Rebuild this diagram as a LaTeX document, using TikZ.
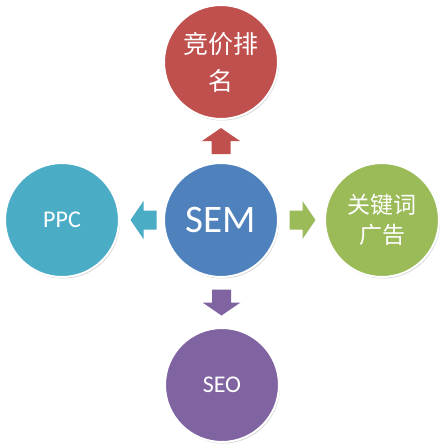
\documentclass[tikz,border=0pt]{standalone}
\usepackage{fontspec}
\setmainfont{Carlito}
\newfontfamily\cjk{Noto Sans CJK SC}
\usetikzlibrary{shadows,calc}
\definecolor{cred}{HTML}{C0504D}
\definecolor{cblue}{HTML}{4F81BD}
\definecolor{cgreen}{HTML}{9BBB59}
\definecolor{cpurple}{HTML}{8064A2}
\definecolor{cteal}{HTML}{4BACC6}
\tikzset{
  bubble/.style={circle, minimum size=114pt, inner sep=0pt, draw=white, line width=2pt,
    text=white, align=center,
    drop shadow={shadow xshift=1pt, shadow yshift=-1.5pt, opacity=0.3, fill=black!60}},
  blockarrow/.pic={\fill[#1] (-13,-9.5) -- (0,-9.5) -- (0,-19) -- (13,0) -- (0,19) -- (0,9.5) -- (-13,9.5) -- cycle;}
}
\begin{document}
\begin{tikzpicture}[x=1pt,y=-1pt]
\useasboundingbox (0,0) rectangle (444,445);
\fill[white] (0,0) rectangle (444,445);
\node[bubble, fill=cblue, font=\fontsize{39}{39}\selectfont] (sem) at (221,220) {SEM};
\node[bubble, fill=cred, font=\fontsize{25}{37}\selectfont\cjk] (top) at (221,62) {竞价排\\名};
\node[bubble, fill=cteal, font=\fontsize{24}{24}\selectfont] (left) at (62,220) {PPC};
\node[bubble, fill=cgreen, font=\fontsize{23}{30}\selectfont\cjk] (right) at (382,220) {关键词\\广告};
\node[bubble, fill=cpurple, font=\fontsize{24}{24}\selectfont] (bottom) at (222,385) {SEO};
\pic[rotate=90] at ($(sem.north)!0.5!(top.south)$) {blockarrow=cred};
\pic[rotate=180] at ($(sem.west)!0.5!(left.east)+(2,0)$) {blockarrow=cteal};
\pic at ($(sem.east)!0.5!(right.west)+(1,0)$) {blockarrow=cgreen};
\pic[rotate=-90] at ($(sem.south)!0.5!(bottom.north)$) {blockarrow=cpurple};
\end{tikzpicture}
\end{document}
